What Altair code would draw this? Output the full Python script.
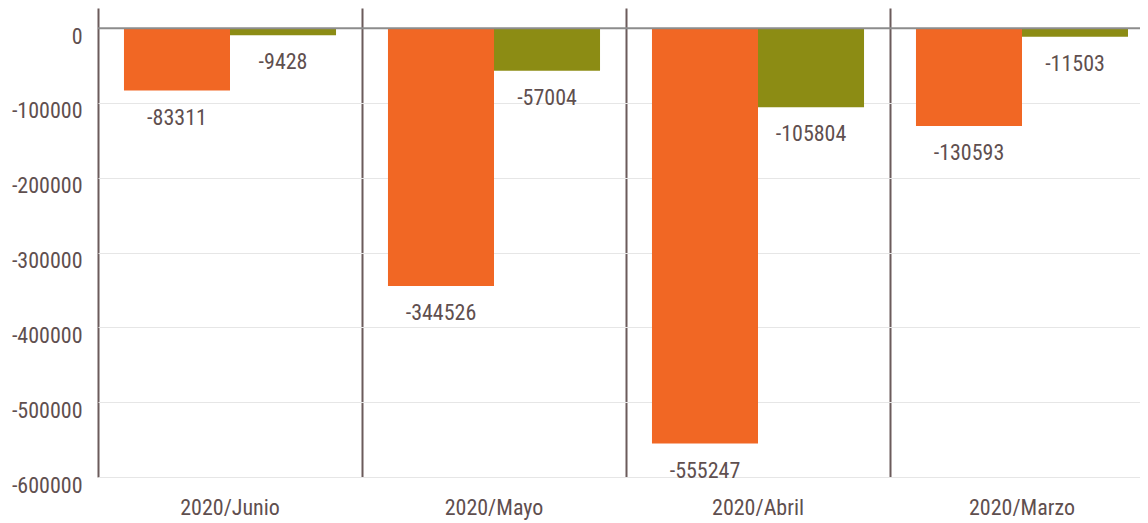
import altair as alt
import pandas as pd

categories = ["2020/Junio", "2020/Mayo", "2020/Abril", "2020/Marzo"]
series_names = ["Serie 1", "Serie 2"]
series_1 = [-83311, -344526, -555247, -130593]
series_2 = [-9428, -57004, -105804, -11503]
y_ticks = [0, -100000, -200000, -300000, -400000, -500000, -600000]

ORANGE = "#F16724"
OLIVE = "#8C8C14"
TEXT = "#5F4F4F"
SEP = "#6B5B5B"
FONT = "Roboto Condensed, Roboto, sans-serif"
FS = 22

rows = []
for c, a, b in zip(categories, series_1, series_2):
    rows.append({"cat": c, "serie": series_names[0], "value": a, "label": str(a)})
    rows.append({"cat": c, "serie": series_names[1], "value": b, "label": str(b)})
df = pd.DataFrame(rows)

x_enc = alt.X(
    "cat:N",
    sort=categories,
    scale=alt.Scale(paddingInner=0, paddingOuter=0, range=[0, 1056]),
    axis=alt.Axis(
        title=None, domain=False, ticks=False, labelFontSize=FS, labelColor=TEXT,
        labelFont=FONT, labelPadding=20, grid=True, gridColor=SEP, gridWidth=2,
        bandPosition=0, labelAngle=0,
    ),
)
xoff_enc = alt.XOffset(
    "serie:N", sort=series_names, scale=alt.Scale(paddingOuter=0.245, paddingInner=0)
)
y_enc = alt.Y(
    "value:Q",
    scale=alt.Scale(domain=[-600000, 27000], nice=False, zero=False),
    axis=alt.Axis(
        title=None, domain=False, ticks=False, values=y_ticks, labelFontSize=FS,
        labelColor=TEXT, labelFont=FONT, labelPadding=16, labelOffset=8,
        grid=True, gridColor="#E6E6E6", gridWidth=1,
        labelExpr="'' + datum.value",
    ),
)

base = alt.Chart(df).encode(x=x_enc, xOffset=xoff_enc, y=y_enc)

bars = base.mark_bar().encode(
    color=alt.Color("serie:N", scale=alt.Scale(domain=series_names, range=[ORANGE, OLIVE]), legend=None)
)
labels = base.mark_text(baseline="middle", dy=27, fontSize=FS, color=TEXT, font=FONT).encode(
    text="label:N"
)
zero = alt.Chart(pd.DataFrame({"y": [0]})).mark_rule(color="#8C8C8C", strokeWidth=2).encode(
    y=alt.Y("y:Q")
)

chart = (
    alt.layer(bars, zero, labels)
    .properties(
        width=1042,
        height=469,
        padding={"left": 90, "top": 0, "right": 0, "bottom": 46},
        autosize=alt.AutoSizeParams(type="none"),
    )
    .configure_view(stroke=None)
)

chart.save("out.html", embed_options={"renderer": "svg", "actions": False})
